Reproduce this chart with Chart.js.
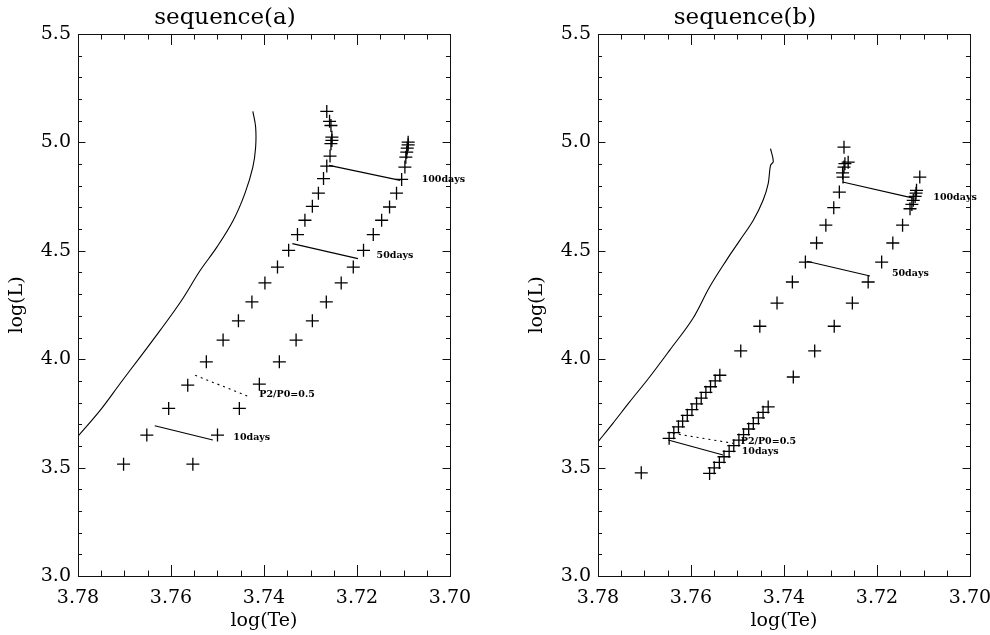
<!DOCTYPE html>
<html>
<head>
<meta charset="utf-8">
<script src="https://cdn.jsdelivr.net/npm/chart.js@4.4.1/dist/chart.umd.min.js"></script>
<style>
  body { margin: 0; background: #fff; }
  #wrapA { position: absolute; left: 0; top: 0; }
  #wrapB { position: absolute; left: 495px; top: 0; }
</style>
</head>
<body>
<div id="wrapA"><canvas id="seqA" width="495" height="635"></canvas></div>
<div id="wrapB"><canvas id="seqB" width="495" height="635"></canvas></div>
<script>
// eixos (comuns aos dois paineis)
const xMajorTicks = [3.78, 3.76, 3.74, 3.72, 3.70];
const xMinorTicks = [3.775, 3.77, 3.765, 3.755, 3.75, 3.745, 3.735, 3.73, 3.725, 3.715, 3.71, 3.705];
const yMajorTicks = [3.0, 3.5, 4.0, 4.5, 5.0, 5.5];
const yMinorTicks = [3.1, 3.2, 3.3, 3.4, 3.6, 3.7, 3.8, 3.9, 4.1, 4.2, 4.3, 4.4, 4.6, 4.7, 4.8, 4.9, 5.1, 5.2, 5.3, 5.4];

// ---------- sequence(a) ----------
const trackA_logTe = [3.7803, 3.7752, 3.7709, 3.7666, 3.7623, 3.7577, 3.7537, 3.7501, 3.7466, 3.7441, 3.7424, 3.7418, 3.7418, 3.7424];
const trackA_logL  = [3.637, 3.765, 3.889, 4.011, 4.134, 4.272, 4.410, 4.518, 4.641, 4.765, 4.886, 4.978, 5.071, 5.143];

const blueA_logTe = [3.7265, 3.7259, 3.7256, 3.7254, 3.7254, 3.7256, 3.7258, 3.7265, 3.7272, 3.7283, 3.7296, 3.7312,
                     3.7328, 3.7347, 3.7371, 3.7398, 3.7426, 3.7455, 3.7488, 3.7524, 3.7564, 3.7605, 3.7652, 3.7702];
const blueA_logL  = [5.143, 5.097, 5.078, 5.024, 5.009, 4.994, 4.937, 4.891, 4.833, 4.766, 4.705, 4.641,
                     4.575, 4.502, 4.425, 4.352, 4.264, 4.177, 4.088, 3.988, 3.880, 3.773, 3.650, 3.516];

const redA_logTe = [3.7090, 3.7090, 3.7092, 3.7093, 3.7095, 3.7097, 3.7104, 3.7115, 3.7130, 3.7147, 3.7165,
                    3.7186, 3.7208, 3.7234, 3.7266, 3.7296, 3.7331, 3.7367, 3.7410, 3.7453, 3.7500, 3.7553];
const redA_logL  = [5.001, 4.989, 4.974, 4.955, 4.932, 4.886, 4.829, 4.766, 4.702, 4.641, 4.575,
                    4.502, 4.425, 4.352, 4.264, 4.177, 4.088, 3.988, 3.885, 3.773, 3.650, 3.516];

const p100A_logTe = [3.7260, 3.7107];  const p100A_logL = [4.894, 4.825];
const p50A_logTe  = [3.7339, 3.7198];  const p50A_logL  = [4.533, 4.464];
const p10A_logTe  = [3.7635, 3.7510];  const p10A_logL  = [3.693, 3.627];
const ratioA_logTe = [3.7548, 3.7431]; const ratioA_logL = [3.926, 3.826];

const notesA_text  = ['100days', '50days', 'P2/P0=0.5', '10days'];
const notesA_logTe = [3.7061, 3.7158, 3.7410, 3.7466];
const notesA_logL  = [4.829, 4.476, 3.837, 3.639];

// ---------- sequence(b) ----------
const trackB_logTe = [3.7800, 3.7768, 3.7732, 3.7689, 3.7646, 3.7596, 3.7560, 3.7524, 3.7495, 3.7466, 3.7445, 3.7434, 3.7429, 3.7423, 3.7429];
const trackB_logL  = [3.619, 3.704, 3.803, 3.918, 4.041, 4.188, 4.333, 4.456, 4.548, 4.641, 4.733, 4.810, 4.894, 4.912, 4.971];

const blueB_logTe = [3.7271, 3.7262, 3.7269, 3.7271, 3.7274, 3.7273, 3.7281, 3.7293, 3.7310, 3.7330, 3.7354,
                     3.7382, 3.7415, 3.7452, 3.7493, 3.7707];
const blueB_logL  = [4.978, 4.909, 4.902, 4.886, 4.859, 4.840, 4.771, 4.699, 4.618, 4.536, 4.448,
                     4.356, 4.259, 4.152, 4.038, 3.476];
const blueStairB_logTe = [3.7647, 3.7637, 3.7627, 3.7618, 3.7608, 3.7598, 3.7588, 3.7578, 3.7568, 3.7558, 3.7548, 3.7538];
const blueStairB_logL  = [3.635, 3.661, 3.688, 3.714, 3.741, 3.767, 3.794, 3.820, 3.847, 3.873, 3.900, 3.926];

const redB_logTe = [3.7108, 3.7115, 3.7116, 3.7118, 3.7122, 3.7125, 3.7129, 3.7145, 3.7166, 3.7190,
                    3.7219, 3.7253, 3.7292, 3.7334, 3.7380];
const redB_logL  = [4.840, 4.779, 4.766, 4.751, 4.733, 4.714, 4.694, 4.618, 4.536, 4.448,
                    4.356, 4.259, 4.152, 4.038, 3.918];
const redStairB_logTe = [3.7560, 3.7550, 3.7539, 3.7529, 3.7518, 3.7508, 3.7497, 3.7487, 3.7476, 3.7466, 3.7455, 3.7445, 3.7434];
const redStairB_logL  = [3.473, 3.499, 3.524, 3.550, 3.575, 3.601, 3.627, 3.652, 3.678, 3.703, 3.729, 3.755, 3.780];

const p100B_logTe = [3.7274, 3.7122];  const p100B_logL = [4.817, 4.743];
const p50B_logTe  = [3.7351, 3.7215];  const p50B_logL  = [4.452, 4.384];
const p10B_logTe  = [3.7649, 3.7531];  const p10B_logL  = [3.627, 3.558];
const ratioB_logTe = [3.7639, 3.7509]; const ratioB_logL = [3.658, 3.612];

const notesB_text  = ['100days', '50days', 'P2/P0=0.5', '10days'];
const notesB_logTe = [3.7079, 3.7168, 3.7493, 3.7491];
const notesB_logL  = [4.748, 4.395, 3.622, 3.573];

const SERIF = "'DejaVu Serif', serif";

function pts(xs, ys) {
    return xs.map((v, i) => ({x: v, y: ys[i]}));
}

function cruzes(xs, ys) {
    return {
        data: pts(xs, ys),
        showLine: false,
        pointStyle: 'cross',
        pointRadius: 6.5,
        pointBorderWidth: 1.3,
        borderColor: '#000',
        backgroundColor: '#000'
    };
}

function segmento(xs, ys, dash) {
    return {
        data: pts(xs, ys),
        showLine: true,
        borderColor: '#000',
        borderWidth: 1.1,
        borderDash: dash || [],
        pointRadius: 0,
        tension: 0
    };
}

// moldura com ticks para dentro nos quatro lados (estilo IDL)
const moldura = {
    id: 'moldura',
    afterDraw(c) {
        const {ctx, chartArea: {left, right, top, bottom}, scales: {x, y}} = c;
        ctx.save();
        ctx.strokeStyle = '#111';
        ctx.lineWidth = 1;
        ctx.strokeRect(left + 0.5, top + 0.5, right - left, bottom - top);
        ctx.beginPath();
        const tx = (v, len) => {
            const px = Math.round(x.getPixelForValue(v)) + 0.5;
            ctx.moveTo(px, bottom); ctx.lineTo(px, bottom - len);
            ctx.moveTo(px, top); ctx.lineTo(px, top + len);
        };
        const ty = (v, len) => {
            const py = Math.round(y.getPixelForValue(v)) + 0.5;
            ctx.moveTo(left, py); ctx.lineTo(left + len, py);
            ctx.moveTo(right, py); ctx.lineTo(right - len, py);
        };
        xMajorTicks.forEach(v => tx(v, 11));
        xMinorTicks.forEach(v => tx(v, 5.5));
        yMajorTicks.forEach(v => ty(v, 7.5));
        yMinorTicks.forEach(v => ty(v, 4));
        ctx.stroke();
        ctx.restore();
    }
};

// textos dos periodos
function notas(textos, xs, ys) {
    return {
        id: 'notas',
        afterDatasetsDraw(c) {
            const {ctx, scales: {x, y}} = c;
            ctx.save();
            ctx.font = "bold 9.5px " + SERIF;
            ctx.fillStyle = '#000';
            ctx.textAlign = 'left';
            ctx.textBaseline = 'middle';
            textos.forEach((t, i) => {
                ctx.fillText(t, x.getPixelForValue(xs[i]), y.getPixelForValue(ys[i]));
            });
            ctx.restore();
        }
    };
}

function painel(id, titulo, padLeft, padRight, datasets, plugNotas) {
    new Chart(document.getElementById(id), {
        type: 'scatter',
        data: {datasets: datasets},
        plugins: [moldura, plugNotas],
        options: {
            responsive: false,
            animation: false,
            events: [],
            layout: {padding: {left: padLeft, right: padRight, top: 0, bottom: 0}},
            plugins: {
                legend: {display: false},
                tooltip: {enabled: false},
                title: {
                    display: true,
                    text: titulo,
                    color: '#000',
                    font: {family: SERIF, size: 23, weight: 'normal'},
                    padding: {top: 4, bottom: 2.4}
                }
            },
            scales: {
                x: {
                    type: 'linear',
                    reverse: true,
                    min: 3.70,
                    max: 3.78,
                    grid: {display: false, drawTicks: false},
                    border: {display: false},
                    afterBuildTicks: s => { s.ticks = xMajorTicks.map(v => ({value: v})); },
                    afterFit: s => { s.height = 59; s.paddingLeft = 0; s.paddingRight = 0; },
                    ticks: {
                        color: '#000',
                        padding: 11,
                        maxRotation: 0,
                        font: {family: SERIF, size: 19},
                        callback: v => Number(v).toFixed(2)
                    },
                    title: {
                        display: true,
                        text: 'log(Te)',
                        color: '#000',
                        font: {family: SERIF, size: 19},
                        padding: {top: 0, bottom: 3}
                    }
                },
                y: {
                    type: 'linear',
                    min: 3.0,
                    max: 5.5,
                    grid: {display: false, drawTicks: false},
                    border: {display: false},
                    afterBuildTicks: s => { s.ticks = yMajorTicks.map(v => ({value: v})); },
                    afterFit: s => { s.width = 78; s.paddingTop = 0; s.paddingBottom = 0; },
                    ticks: {
                        color: '#000',
                        padding: 7,
                        font: {family: SERIF, size: 19},
                        callback: v => Number(v).toFixed(1)
                    },
                    title: {
                        display: true,
                        text: 'log(L)',
                        color: '#000',
                        font: {family: SERIF, size: 19},
                        padding: {top: 6, bottom: 0}
                    }
                }
            }
        }
    });
}

painel('seqA', 'sequence(a)', 0, 45, [
    Object.assign(segmento(trackA_logTe, trackA_logL), {tension: 0.35}),
    cruzes(blueA_logTe, blueA_logL),
    cruzes(redA_logTe, redA_logL),
    segmento(p100A_logTe, p100A_logL),
    segmento(p50A_logTe, p50A_logL),
    segmento(p10A_logTe, p10A_logL),
    segmento(ratioA_logTe, ratioA_logL, [2, 4])
], notas(notesA_text, notesA_logTe, notesA_logL));

painel('seqB', 'sequence(b)', 25, 20, [
    Object.assign(segmento(trackB_logTe, trackB_logL), {tension: 0.35}),
    cruzes(blueB_logTe, blueB_logL),
    cruzes(blueStairB_logTe, blueStairB_logL),
    cruzes(redB_logTe, redB_logL),
    cruzes(redStairB_logTe, redStairB_logL),
    segmento(p100B_logTe, p100B_logL),
    segmento(p50B_logTe, p50B_logL),
    segmento(p10B_logTe, p10B_logL),
    segmento(ratioB_logTe, ratioB_logL, [2, 4])
], notas(notesB_text, notesB_logTe, notesB_logL));
</script>
</body>
</html>
